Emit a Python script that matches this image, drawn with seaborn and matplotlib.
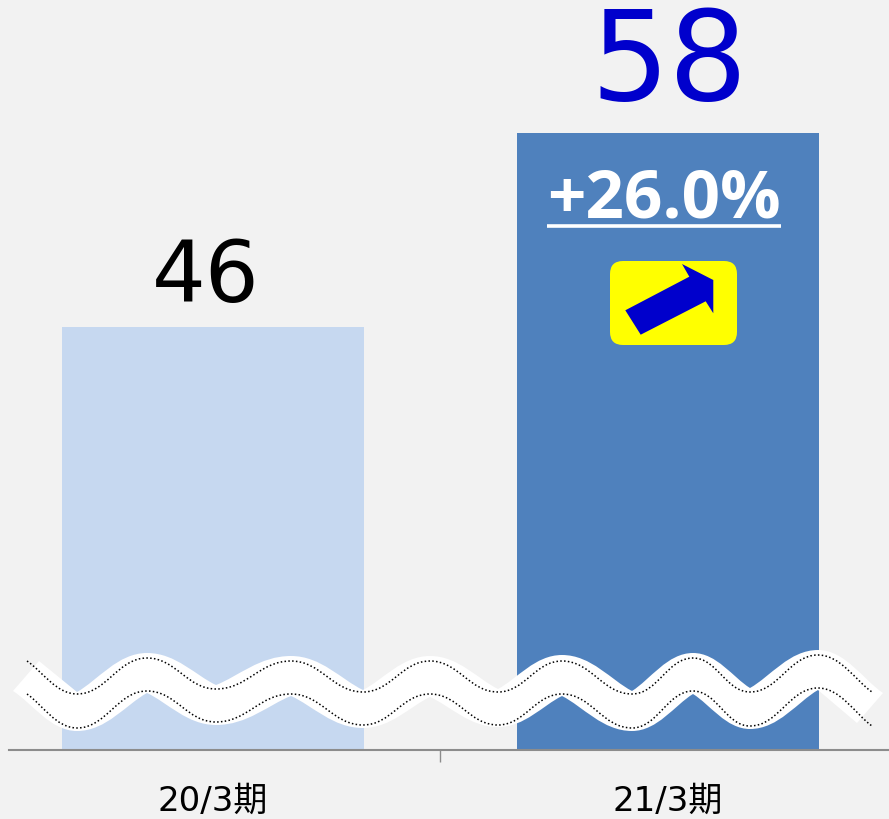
import matplotlib
matplotlib.use("Agg")
import matplotlib.pyplot as plt
from matplotlib.patches import FancyBboxPatch, PathPatch, Polygon
from matplotlib.path import Path
import seaborn as sns

periods = ['20/3期', '21/3期']
values = [46, 58]
change_label = '+26.0%'
bar_colors = ['#C6D8F0', '#4F81BD']
value_colors = ['#000000', '#0000CC']

# wave break drawn over the bars, figure pixels
dot_top_x = [27, 77, 147, 216, 291, 363, 430, 498, 562, 632, 693, 750, 818, 872]
dot_top_y = [661, 694, 658, 689, 661, 692, 661, 692, 661, 694, 658, 692, 655, 692]
dot_low_x = [27, 77, 147, 216, 291, 363, 430, 498, 562, 632, 693, 750, 818, 872]
dot_low_y = [694, 728, 691, 722, 694, 725, 694, 725, 694, 728, 691, 726, 688, 726]
edge_top_x = [39, 77, 147, 216, 291, 363, 430, 498, 562, 632, 693, 750, 818, 883]
edge_top_y = [661, 692, 653, 685, 656, 690, 656, 689, 655, 691, 653, 688, 650, 693]
edge_low_x = [13, 77, 147, 216, 291, 363, 430, 498, 562, 632, 693, 750, 818, 857]
edge_low_y = [691, 731, 693, 725, 696, 728, 697, 727, 696, 731, 694, 729, 690, 723]
arrow_x = [625.3, 640.7, 705.7, 713.3, 713.3, 682, 689.3]
arrow_y = [310.3, 334.7, 301.3, 313.3, 280, 264, 276.7]


def wave_codes(xs, ys, cusps=()):
    # bezier through the points, flat at the crests, sharp at the cusps
    verts = [(xs[0], ys[0])]
    for i in range(len(xs) - 1):
        dx = xs[i + 1] - xs[i]
        dy = ys[i + 1] - ys[i]
        if i in cusps or i == 0:
            verts.append((xs[i] + 0.3 * dx, ys[i] + 0.3 * dy))
        else:
            verts.append((xs[i] + 0.42 * dx, ys[i]))
        if i + 1 in cusps or i + 1 == len(xs) - 1:
            verts.append((xs[i + 1] - 0.3 * dx, ys[i + 1] - 0.3 * dy))
        else:
            verts.append((xs[i + 1] - 0.42 * dx, ys[i + 1]))
        verts.append((xs[i + 1], ys[i + 1]))
    return verts


sns.set_theme(style='white')
plt.rcParams['font.family'] = ['DejaVu Sans', 'Noto Sans CJK JP']

fig = plt.figure(figsize=(8.89, 8.19), dpi=100, facecolor='#F2F2F2')
ax = fig.add_axes([9 / 889, 69 / 819, 880 / 889, 750 / 819], facecolor='#F2F2F2')

sns.barplot(x=periods, y=values, hue=periods, palette=bar_colors, width=0.664,
            legend=False, saturation=1, linewidth=0, ax=ax)
ax.set_xlim(-0.448, 1.486)
ax.set_ylim(19.84, 66.22)
ax.set_xlabel('')
ax.set_ylabel('')
ax.set_yticks([])
sns.despine(ax=ax, left=True)
ax.spines['bottom'].set_color('#8C8C8C')
ax.spines['bottom'].set_linewidth(1.5)

ax.set_xticks([0, 1])
ax.set_xticklabels(periods, fontsize=24.5, color='black')
ax.tick_params(axis='x', which='major', length=0, pad=25)
ax.set_xticks([0.5], minor=True)
ax.tick_params(axis='x', which='minor', length=8.6, width=1, color='#8C8C8C', bottom=True)

ax.annotate(str(values[0]), xy=(0, values[0]), xytext=(-5, 18), textcoords='offset points',
            ha='center', va='baseline', fontsize=61, color=value_colors[0])
ax.annotate(str(values[1]), xy=(1, values[1]), xytext=(1, 24), textcoords='offset points',
            ha='center', va='baseline', fontsize=89, color=value_colors[1])

# overlay in pixels for the break, badge and growth label
over = fig.add_axes([0, 0, 1, 1], facecolor='none')
over.set_xlim(0, 889)
over.set_ylim(819, 0)
over.axis('off')

top_edge = wave_codes(edge_top_x, edge_top_y, cusps=(1, 3, 5, 7, 9, 11))
low_edge = wave_codes(edge_low_x, edge_low_y, cusps=(2, 4, 6, 8, 10, 12))
verts = top_edge + low_edge[::-1] + [top_edge[0]]
codes = [Path.MOVETO] + [Path.CURVE4] * (len(top_edge) - 1) + [Path.LINETO] \
    + [Path.CURVE4] * (len(low_edge) - 1) + [Path.LINETO]
over.add_patch(PathPatch(Path(verts, codes), facecolor='white', edgecolor='none'))

for xs, ys in [(dot_top_x, dot_top_y), (dot_low_x, dot_low_y)]:
    line = wave_codes(xs, ys)
    line_codes = [Path.MOVETO] + [Path.CURVE4] * (len(line) - 1)
    over.add_patch(PathPatch(Path(line, line_codes), fill=False, edgecolor='black',
                             linewidth=1.1, linestyle=(0, (1, 1.5))))

over.text(664.5, 218, change_label, ha='center', va='baseline', fontsize=48.5,
          fontweight='bold', family='Open Sans', color='white')
over.plot([547, 781], [226, 226], color='white', linewidth=2.6, solid_capstyle='butt')

over.add_patch(FancyBboxPatch((610, 261), 127, 84, boxstyle='round,pad=0,rounding_size=13',
                              facecolor='#FFFF00', edgecolor='none'))
over.add_patch(Polygon(list(zip(arrow_x, arrow_y)), closed=True, facecolor='#0000CC', edgecolor='none'))

fig.savefig('out.png', dpi=100, facecolor=fig.get_facecolor())
